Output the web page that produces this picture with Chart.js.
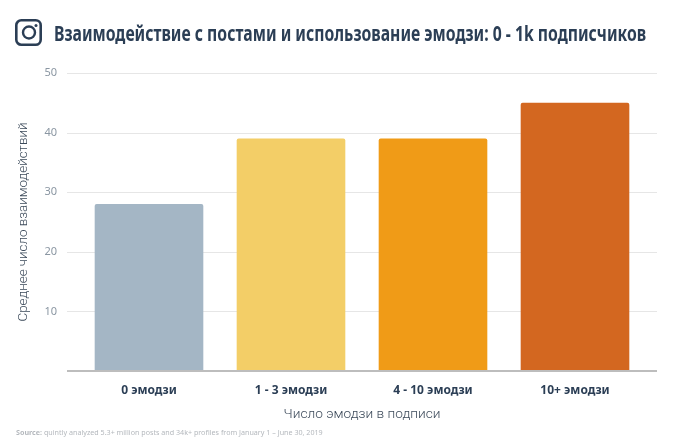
<!DOCTYPE html>
<html>
<head>
<meta charset="utf-8">
<style>
html, body { margin: 0; padding: 0; background: #fff; overflow: hidden; }
#wrap { position: relative; width: 677px; height: 448px; }
#title { position: absolute; left: 54px; top: 19px; font: bold 21px "Noto Sans", sans-serif; color: #2b3e55; white-space: nowrap; line-height: 28px; transform-origin: left center; }
#source { position: absolute; left: 16px; top: 427px; font: 7.5px "Noto Sans", sans-serif; color: #b4b8bd; white-space: nowrap; transform-origin: left center; }
#source b { font-weight: bold; }
#logo { position: absolute; left: 15px; top: 19px; }
</style>
</head>
<body>
<div id="wrap">
<canvas id="emojiChart" width="677" height="448"></canvas>
<svg id="logo" width="27" height="27" viewBox="0 0 27 27">
  <rect x="1.3" y="1.3" width="24.4" height="24.4" rx="5" fill="none" stroke="#2b3e55" stroke-width="2.6"/>
  <circle cx="14" cy="13.5" r="6" fill="none" stroke="#2b3e55" stroke-width="2.4"/>
  <circle cx="21" cy="6.5" r="1.5" fill="#2b3e55"/>
</svg>
<div id="title">Взаимодействие с постами и использование эмодзи: 0 - 1k подписчиков</div>
<div id="source"><b>Source:</b> quintly analyzed 5.3+ million posts and 34k+ profiles from January 1 – June 30, 2019</div>
</div>
<script src="https://cdn.jsdelivr.net/npm/chart.js@4"></script>
<script>
var categories = ["0 эмодзи", "1 - 3 эмодзи", "4 - 10 эмодзи", "10+ эмодзи"];
var interactions = [28, 39, 39, 45];
var barColors = ["#a4b6c5", "#f3ce67", "#f09b17", "#d36720"];

// squeeze the html text to the width it has in the picture
function fitWidth(id, width) {
    var el = document.getElementById(id);
    el.style.transform = "scaleX(" + width / el.offsetWidth + ")";
}
fitWidth("title", 592);
fitWidth("source", 307);

// grid lines and base line run wider than the bars' scale
var wideGrid = {
    id: "wideGrid",
    beforeDatasetsDraw: function (chart) {
        var c = chart.ctx;
        var y = chart.scales.y;
        c.save();
        y.ticks.forEach(function (t) {
            var py = Math.round(y.getPixelForValue(t.value)) + 0.5;
            c.strokeStyle = "#e6e6e6";
            c.lineWidth = 1;
            c.beginPath();
            c.moveTo(67, py);
            c.lineTo(657, py);
            c.stroke();
        });
        c.restore();
    },
    afterDatasetsDraw: function (chart) {
        var c = chart.ctx;
        var py = chart.scales.y.getPixelForValue(0);
        c.save();
        c.strokeStyle = "#bdbdbd";
        c.lineWidth = 2;
        c.beginPath();
        c.moveTo(67, py);
        c.lineTo(657, py);
        c.stroke();
        c.restore();
    }
};

var ctx = document.getElementById("emojiChart").getContext("2d");
var emojiChart = new Chart(ctx, {
    type: "bar",
    data: {
        labels: categories,
        datasets: [{
            data: interactions,
            backgroundColor: barColors,
            borderRadius: 2,
            borderSkipped: "bottom",
            barPercentage: 0.765,
            categoryPercentage: 1
        }]
    },
    options: {
        responsive: false,
        animation: false,
        layout: { padding: { top: 73, right: 31, left: 0, bottom: 0 } },
        plugins: { legend: { display: false }, tooltip: { enabled: false } },
        scales: {
            x: {
                afterFit: function (axis) { axis.height = 77; },
                grid: { display: false, drawTicks: false },
                border: { display: false },
                ticks: { color: "#2b3e55", font: { family: "Noto Sans", size: 12, weight: "bold" }, padding: 12 },
                title: { display: true, text: "Число эмодзи в подписи", color: "#3c4a5a", font: { family: "Roboto", size: 13.7, weight: "300" }, padding: { top: 4, bottom: 25 } }
            },
            y: {
                min: 0,
                max: 50,
                afterFit: function (axis) { axis.width = 78; },
                afterBuildTicks: function (axis) { axis.ticks = axis.ticks.filter(function (t) { return t.value !== 0; }); },
                grid: { display: false, drawTicks: false },
                border: { display: false },
                ticks: { stepSize: 10, color: "#8a96a2", font: { family: "Noto Sans", size: 11 }, padding: 21 },
                title: { display: true, text: "Среднее число взаимодействий", color: "#3c4a5a", font: { family: "Roboto", size: 13.4, weight: "300" }, padding: { top: 16, bottom: 4 } }
            }
        }
    },
    plugins: [wideGrid]
});
</script>
</body>
</html>
